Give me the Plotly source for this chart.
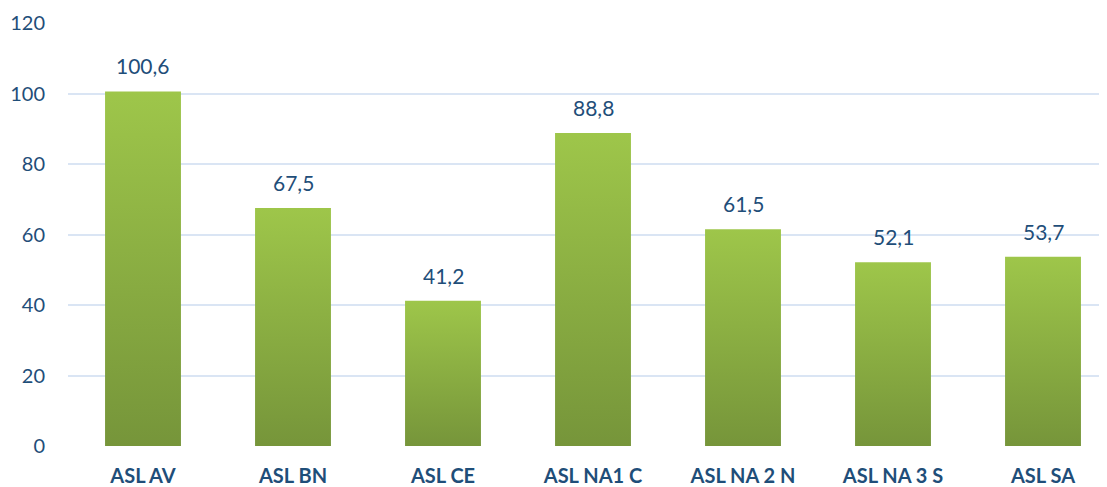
import plotly.graph_objects as go

# --- data ---------------------------------------------------------------------
categories = ["ASL AV", "ASL BN", "ASL CE", "ASL NA1 C", "ASL NA 2 N", "ASL NA 3 S", "ASL SA"]
values = [100.6, 67.5, 41.2, 88.8, 61.5, 52.1, 53.7]
y_ticks = [0, 20, 40, 60, 80, 100, 120]

# --- style --------------------------------------------------------------------
_TOP = "#9ec64a"
_BOTTOM = "#76953a"
_INK = "#1f4e79"
_GRID = "#dae5f4"
_FONT = "Lato, 'Open Sans', sans-serif"
_HALF = 0.253  # half bar width, in category units
# the page body has an 8px margin, so the figure is shrunk by that much
_W, _H = 1099, 479
_LEFT = 60

fig = go.Figure()

# Bars drawn as filled rectangles so each one can carry its own vertical gradient
for i, v in enumerate(values):
    fig.add_trace(
        go.Scatter(
            x=[i - _HALF, i + _HALF, i + _HALF, i - _HALF, i - _HALF],
            y=[0, 0, v, v, 0],
            mode="lines",
            line=dict(width=0),
            fill="toself",
            fillgradient=dict(type="vertical", colorscale=[[0, _BOTTOM], [1, _TOP]]),
            hoverinfo="skip",
            showlegend=False,
        )
    )

# value labels above bars
for i, v in enumerate(values):
    fig.add_annotation(
        x=i,
        y=v,
        text=f"{v:.1f}".replace(".", ","),
        showarrow=False,
        yanchor="bottom",
        yshift=11,
        font=dict(family=_FONT, size=21, color=_INK),
    )

fig.update_layout(
    width=_W,
    height=_H,
    paper_bgcolor="white",
    plot_bgcolor="white",
    margin=dict(l=_LEFT, r=0, t=15, b=41),
    font=dict(family=_FONT, color=_INK, size=19),
)
fig.update_xaxes(
    range=[-0.5, (_W - _LEFT) / 150 - 0.5],
    tickvals=list(range(len(categories))),
    ticktext=[f"<b>{c}</b>" for c in categories],
    tickfont=dict(size=20, color=_INK),
    showgrid=False,
    zeroline=False,
    showline=False,
    ticks="",
    ticklabelstandoff=16,
)
fig.update_yaxes(
    range=[0, 120],
    tickvals=y_ticks,
    tickfont=dict(size=20, color=_INK),
    gridcolor=_GRID,
    gridwidth=2,
    zeroline=False,
    showline=False,
    ticklabelstandoff=22,
)

fig.write_html("out.html")
